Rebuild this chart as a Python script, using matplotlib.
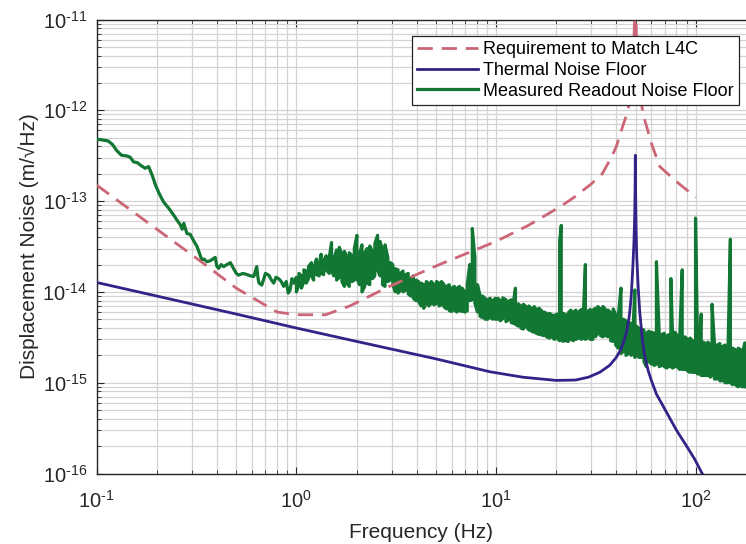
import numpy as np
import matplotlib
matplotlib.use("Agg")
import matplotlib.pyplot as plt
from matplotlib.ticker import LogLocator, NullFormatter, FixedLocator, FuncFormatter

plt.rcParams['font.family'] = ['Liberation Sans', 'DejaVu Sans']
plt.rcParams['mathtext.default'] = 'regular'

# ---------------- data ----------------
# Requirement to match L4C  (Hz, m/rtHz)
req_f = [0.1, 0.2, 0.32, 0.5, 0.8, 1.0, 1.4, 1.85, 2.9, 5.2, 10, 14.5, 21, 25,
         30, 34, 38, 40, 43, 45.8, 47.5, 48.8, 49.5, 49.8, 50.1, 50.8, 52, 54.6,
         60, 66, 80, 100]
req_v = [1.5e-13, 4.9e-14, 2.3e-14, 1.1e-14, 6.0e-15, 5.6e-15, 5.6e-15, 7.0e-15,
         1.14e-14, 2.0e-14, 3.6e-14, 5.4e-14, 8.7e-14, 1.13e-13, 1.55e-13, 2.0e-13,
         3.1e-13, 4.0e-13, 6.6e-13, 1.0e-12, 1.8e-12, 4.5e-12, 1.2e-11, 3.0e-11,
         1.2e-11, 3.5e-12, 1.7e-12, 8.9e-13, 4.3e-13, 2.4e-13, 1.64e-13, 1.1e-13]

# Thermal noise floor
therm_f = [0.1, 0.2, 0.5, 1, 2, 5, 9.3, 13.6, 20, 25, 29, 33, 37, 40, 42, 43.5,
           45, 46.5, 47.5, 48.4, 49.0, 49.4, 49.65, 49.8, 49.95, 50.2, 50.6,
           51.5, 52.4, 54, 55.4, 57.8, 60, 63.5, 70, 80, 90, 98.5, 107.6]
therm_v = [1.27e-14, 9.0e-15, 5.7e-15, 4.0e-15, 2.85e-15, 1.83e-15, 1.32e-15,
           1.15e-15, 1.06e-15, 1.07e-15, 1.15e-15, 1.3e-15, 1.55e-15, 1.9e-15,
           2.3e-15, 2.8e-15, 3.6e-15, 5.5e-15, 9e-15, 1.9e-14, 3.5e-14, 6.5e-14,
           1.3e-13, 3.2e-13, 1.3e-13, 5.5e-14, 2.5e-14, 1.1e-14, 6e-15, 3e-15,
           2e-15, 1.35e-15, 1.05e-15, 7.5e-16, 5.1e-16, 3.0e-16, 2.0e-16,
           1.45e-16, 1.0e-16]

# Measured readout noise: smooth low-frequency part
meas_smooth_f = [0.100, 0.108, 0.114, 0.120, 0.126, 0.133, 0.141, 0.147, 0.153,
                 0.160, 0.165, 0.175, 0.182, 0.190, 0.197, 0.206, 0.216, 0.230,
                 0.243, 0.252, 0.262, 0.268, 0.273, 0.283, 0.294, 0.305, 0.318,
                 0.336, 0.345, 0.356, 0.370, 0.392, 0.400, 0.408, 0.420, 0.432,
                 0.450, 0.467, 0.485, 0.500, 0.514, 0.540, 0.566, 0.590, 0.612,
                 0.633, 0.643, 0.650, 0.671, 0.700, 0.727, 0.750, 0.770, 0.790,
                 0.815, 0.840, 0.863, 0.890, 0.910, 0.930, 0.950, 0.970]
meas_smooth_v = [4.8e-13, 4.7e-13, 4.6e-13, 4.2e-13, 3.6e-13, 3.2e-13, 3.15e-13,
                 3.05e-13, 2.7e-13, 2.65e-13, 2.5e-13, 2.3e-13, 2.4e-13, 1.9e-13,
                 1.5e-13, 1.2e-13, 9.8e-14, 8.3e-14, 7.0e-14, 6.2e-14, 5.5e-14,
                 4.9e-14, 5.7e-14, 4.4e-14, 4.3e-14, 3.7e-14, 3.16e-14, 2.25e-14,
                 2.3e-14, 2.15e-14, 2.2e-14, 2.4e-14, 1.9e-14, 1.82e-14, 2.0e-14,
                 1.9e-14, 2.0e-14, 2.1e-14, 1.8e-14, 1.6e-14, 1.53e-14, 1.6e-14,
                 1.55e-14, 1.5e-14, 1.48e-14, 1.9e-14, 1.4e-14, 1.25e-14, 1.19e-14,
                 1.6e-14, 1.53e-14, 1.35e-14, 1.25e-14, 1.45e-14, 1.4e-14, 1.3e-14,
                 1.15e-14, 1.3e-14, 9.7e-15, 1.05e-14, 1.4e-14, 1.25e-14]

# Measured readout noise: noisy part, upper / lower excursions (units 1e-15 m/rtHz)
meas_f = [1.00, 1.03, 1.06, 1.09, 1.12, 1.15, 1.19, 1.22, 1.26, 1.30,
          1.33, 1.37, 1.41, 1.46, 1.50, 1.54, 1.59, 1.64, 1.69, 1.74,
          1.79, 1.84, 1.90, 1.95, 2.01, 2.07, 2.13, 2.20, 2.26, 2.33,
          2.40, 2.47, 2.55, 2.62, 2.70, 2.78, 2.87, 2.95, 3.04, 3.13,
          3.23, 3.32, 3.42, 3.53, 3.63, 3.74, 3.85, 3.97, 4.09, 4.21,
          4.34, 4.47, 4.60, 4.74, 4.88, 5.03, 5.18, 5.33, 5.49, 5.66,
          5.83, 6.00, 6.18, 6.37, 6.56, 6.76, 6.96, 7.17, 7.38, 7.60,
          7.83, 8.07, 8.31, 8.56, 8.81, 9.08, 9.35, 9.63, 9.92,
          10.2, 10.5, 10.8, 11.2, 11.5, 11.9, 12.2, 12.5, 12.9, 13.3,
          13.7, 14.2, 14.6, 15.0, 15.5, 15.9, 16.4, 16.9, 17.4, 17.9,
          18.5, 19.0, 19.6, 20.2, 20.8, 21.2, 21.7, 22.3, 23.0, 23.7,
          24.4, 25.1, 25.9, 26.7, 27.4, 28.0, 28.7, 29.6, 30.5, 31.4,
          32.3, 33.3, 34.3, 35.3, 36.4, 37.5, 38.6, 39.7, 40.9, 42.2,
          43.4, 44.7, 46.1, 47.4, 48.6, 49.5, 50.3, 51.8, 53.4, 55.0,
          56.6, 58.3, 60.1, 61.9, 63.5, 65.6, 67.6, 69.6, 71.7, 73.9,
          75.0, 76.5, 78.5, 80.7, 83.1, 85.5, 88.2, 90.8, 93.5, 96.3,
          99.7, 102, 104, 106.5, 109, 112, 115, 118, 120.6, 124,
          128, 132, 136, 140, 145, 149, 153, 158, 163, 168, 172, 176, 178]
meas_hi = [14.5, 16, 15, 17.5, 17, 19, 21, 18, 23, 20,
           26, 22, 25, 24, 35, 23, 29, 31, 26, 28,
           24, 27, 25, 30, 42, 26, 33, 27, 30, 32,
           28, 34, 42, 36, 29, 33, 24, 21, 20, 18,
           17.5, 16, 17, 15.5, 16, 14, 15, 13.5, 13, 12.5,
           12, 13, 12.5, 13, 12, 13, 12.5, 13, 12, 11.5,
           12, 11, 11.5, 11, 11.5, 11, 10, 12, 20, 50,
           24, 12, 9.2, 9, 8.5, 8.2, 8.5, 8, 8.5,
           8.5, 8.0, 8.6, 8.2, 7.8, 8.2, 7.6, 11.0, 7.4, 7.0,
           7.3, 6.8, 7.0, 6.6, 6.9, 6.4, 6.6, 6.2, 6.0, 5.8,
           5.8, 5.6, 5.5, 5.7, 36, 54, 5.8, 5.6, 5.9, 6.3,
           6.0, 6.3, 6.0, 6.4, 6.2, 20, 6.1, 6.4, 6.3, 6.6,
           6.9, 6.5, 6.9, 6.4, 6.3, 5.9, 6.5, 5.6, 5.4, 11,
           5.0, 4.8, 4.6, 4.5, 4.3, 10.5, 4.2, 4.0, 3.9, 3.8,
           3.5, 3.7, 3.6, 3.5, 21.5, 3.5, 3.4, 3.5, 3.3, 3.4,
           14, 3.3, 3.6, 3.3, 3.2, 17.5, 3.2, 3.0, 3.1, 2.9,
           65, 2.9, 2.8, 5.7, 2.8, 2.7, 2.8, 2.6, 7.3, 2.7,
           2.6, 2.7, 2.5, 2.6, 2.4, 38, 2.4, 2.3, 2.4, 2.3, 2.2, 2.75, 2.3]
meas_lo = [10, 12, 11, 13, 12.5, 14, 15, 13.5, 15.5, 15,
           16, 15.5, 17.5, 16, 17, 15, 13.5, 14.5, 13, 11.5,
           12.5, 11.5, 13, 13.5, 14, 12, 10, 11.5, 12.5, 12,
           14, 15, 17.5, 15, 12, 11.5, 13, 13.5, 12, 10,
           9.7, 10.5, 10, 10.5, 9.5, 9, 8.5, 8, 7.9, 7,
           6.6, 7.5, 7, 7.5, 7.2, 7.5, 7, 7.2, 6.8, 6.5,
           6.2, 6.1, 6.3, 6, 6.2, 6.1, 6, 6.2, 8, 8.2,
           7.5, 6, 5.4, 5.2, 5, 5, 5.2, 5, 5,
           5.0, 4.8, 5.1, 4.7, 4.9, 4.6, 4.5, 4.4, 4.2, 4.0,
           3.9, 4.1, 3.8, 3.7, 3.6, 3.5, 3.4, 3.35, 3.3, 3.2,
           3.1, 3.2, 3.0, 3.1, 2.9, 3.0, 2.85, 2.9, 2.85, 3.0,
           2.9, 3.0, 3.1, 3.0, 3.1, 3.0, 3.1, 3.0, 3.0, 3.2,
           3.5, 3.3, 3.2, 3.3, 3.2, 2.9, 2.85, 2.6, 2.4, 2.1,
           2.2, 2.0, 2.1, 2.0, 2.1, 1.9, 2.0, 1.9, 1.9, 1.7,
           1.5, 1.7, 1.6, 1.55, 1.6, 1.5, 1.55, 1.5, 1.45, 1.5,
           1.5, 1.45, 1.5, 1.5, 1.4, 1.4, 1.4, 1.35, 1.3, 1.3,
           1.3, 1.25, 1.25, 1.2, 1.2, 1.2, 1.2, 1.15, 1.2, 1.1,
           1.1, 1.05, 1.05, 1.0, 1.0, 1.0, 0.95, 0.95, 0.9, 0.92, 0.9, 0.9, 0.9]

x_ticks = [0.1, 1, 10, 100]
y_ticks = [1e-16, 1e-15, 1e-14, 1e-13, 1e-12, 1e-11]
legend_labels = ["Requirement to Match L4C", "Thermal Noise Floor",
                 "Measured Readout Noise Floor"]

# ---------------- build measured trace ----------------
mx = list(meas_smooth_f)
my = list(meas_smooth_v)
for i, (f, h, l) in enumerate(zip(meas_f, meas_hi, meas_lo)):
    pair = (h, l) if i % 2 == 0 else (l, h)
    mx += [f, f]
    my += [pair[0] * 1e-15, pair[1] * 1e-15]


def pow10_label(v, pos):
    e = int(round(np.log10(v)))
    s = str(e).replace('-', '\u2010')
    return '$10^{%s}$' % s


# ---------------- figure ----------------
W, H = 746, 544
fig = plt.figure(figsize=(W / 100, H / 100), dpi=100)
left, right, top, bottom = 96.7, 746, 19.5, 473.5
ax = fig.add_axes([left / W, 1 - bottom / H, (right - left) / W, (bottom - top) / H])

c_req = '#CC6677'
c_th = '#332288'
c_me = '#117733'

l3, = ax.plot(mx, my, color=c_me, lw=2.3, zorder=3)
l2, = ax.plot(therm_f, therm_v, color=c_th, lw=2.0, zorder=4)
l1, = ax.plot(req_f, req_v, color=c_req, lw=2.0, dashes=(5.5, 3.2), zorder=5)

ax.set_xscale('log')
ax.set_yscale('log')
ax.set_xlim(0.1, 178.4)
ax.set_ylim(1e-16, 1e-11)

ax.xaxis.set_major_locator(FixedLocator(x_ticks))
ax.yaxis.set_major_locator(FixedLocator(y_ticks))
ax.xaxis.set_major_formatter(FuncFormatter(pow10_label))
ax.yaxis.set_major_formatter(FuncFormatter(pow10_label))
ax.xaxis.set_minor_locator(LogLocator(base=10, subs=np.arange(2, 10), numticks=20))
ax.yaxis.set_minor_locator(LogLocator(base=10, subs=np.arange(2, 10), numticks=20))
ax.xaxis.set_minor_formatter(NullFormatter())
ax.yaxis.set_minor_formatter(NullFormatter())

ax.grid(True, which='both', color='#d4d4d4', lw=0.9)
ax.set_axisbelow(True)

ax.tick_params(which='both', direction='in', top=True, right=False,
               colors='#262626', labelsize=14.5)
ax.tick_params(which='major', length=5, width=0.8)
ax.tick_params(which='minor', length=3, width=0.6)
ax.tick_params(axis='y', pad=7)
ax.tick_params(axis='x', pad=12)

for s in ['left', 'bottom', 'top']:
    ax.spines[s].set_color('#262626')
    ax.spines[s].set_linewidth(1.0)
ax.spines['right'].set_visible(False)

ax.set_xlabel('Frequency (Hz)', fontsize=15, color='#262626', labelpad=8)
ax.set_ylabel('Displacement Noise (m/\u221aHz)', fontsize=15, color='#262626', labelpad=2.5)

leg = ax.legend([l1, l2, l3], legend_labels, loc='upper right',
                bbox_to_anchor=((739 - left) / (right - left), (bottom - 36) / (bottom - top)),
                borderaxespad=0, fontsize=13, frameon=True, fancybox=False,
                framealpha=1, edgecolor='#262626', handlelength=3.4,
                handletextpad=0.25, labelspacing=0.2, borderpad=0.3)
leg.get_frame().set_linewidth(0.9)
leg.set_zorder(10)

fig.savefig('out.png', dpi=100)
